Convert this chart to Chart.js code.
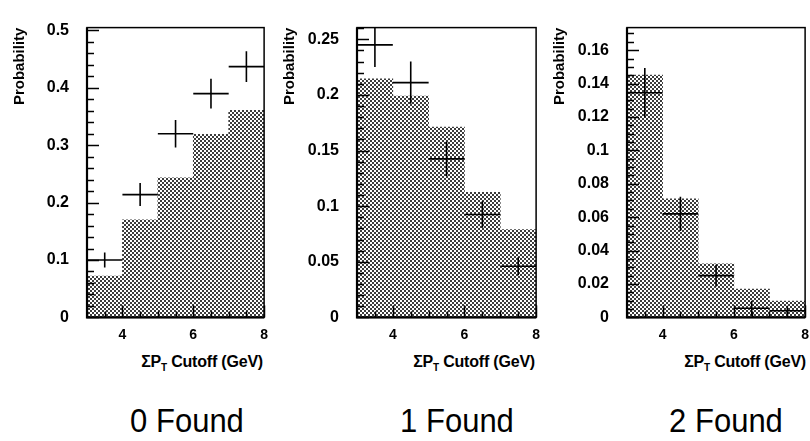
<!DOCTYPE html>
<html>
<head>
<meta charset="utf-8">
<script src="https://cdn.jsdelivr.net/npm/chart.js@4.4.1/dist/chart.umd.min.js"></script>
<style>
	html, body { margin: 0; padding: 0; background: #fff; width: 810px; height: 441px; overflow: hidden; position: relative; font-family: 'Liberation Sans', Arial, sans-serif; }
	canvas { position: absolute; top: 0; }
	.xt { position: absolute; top: 353px; font-weight: bold; font-size: 16px; line-height: 18px; white-space: nowrap; letter-spacing: -0.2px; }
	.xt sub { font-size: 10px; vertical-align: -4px; line-height: 0; }
	.found { position: absolute; top: 402px; width: 200px; text-align: center; font-size: 31px; line-height: 38px; transform: scaleY(1.08); }
</style>
</head>
<body>
<canvas id="panel0" width="277" height="345" style="left:0px"></canvas>
<canvas id="panel1" width="279" height="345" style="left:270px"></canvas>
<canvas id="panel2" width="278" height="345" style="left:540px"></canvas>

<div class="xt" style="right:547px">&Sigma;P<sub>T</sub> Cutoff (GeV)</div>
<div class="xt" style="right:275px">&Sigma;P<sub>T</sub> Cutoff (GeV)</div>
<div class="xt" style="right:4px">&Sigma;P<sub>T</sub> Cutoff (GeV)</div>

<div class="found" style="left:87px">0 Found</div>
<div class="found" style="left:357px">1 Found</div>
<div class="found" style="left:626px">2 Found</div>

<script>
// bins of the sum-pT cutoff (GeV)
const binCenters = [3.5, 4.5, 5.5, 6.5, 7.5];
const xTicks = [4, 6, 8];
const xTickLabels = ['4', '6', '8'];

// 0 found
const mc0 = [0.072, 0.170, 0.243, 0.319, 0.361];
const data0 = [0.100, 0.214, 0.320, 0.390, 0.437];
const err0 = [0.013, 0.020, 0.024, 0.026, 0.027];
const yTicks0 = [0, 0.1, 0.2, 0.3, 0.4, 0.5];
const yLabels0 = ['0', '0.1', '0.2', '0.3', '0.4', '0.5'];

// 1 found
const mc1 = [0.2145, 0.199, 0.171, 0.1125, 0.079];
const data1 = [0.245, 0.211, 0.1425, 0.0925, 0.046];
const err1 = [0.020, 0.019, 0.0155, 0.012, 0.008];
const yTicks1 = [0, 0.05, 0.1, 0.15, 0.2, 0.25];
const yLabels1 = ['0', '0.05', '0.1', '0.15', '0.2', '0.25'];

// 2 found
const mc2 = [0.145, 0.071, 0.032, 0.017, 0.0097];
const data2 = [0.1345, 0.062, 0.025, 0.0055, 0.004];
const err2 = [0.0148, 0.0102, 0.0065, 0.0045, 0.003];
const yTicks2 = [0, 0.02, 0.04, 0.06, 0.08, 0.1, 0.12, 0.14, 0.16];
const yLabels2 = ['0', '0.02', '0.04', '0.06', '0.08', '0.1', '0.12', '0.14', '0.16'];

const FONT = "'Liberation Sans', Arial, sans-serif";

function dotPattern() {
	const c = document.createElement('canvas');
	c.width = 4;
	c.height = 4;
	const g = c.getContext('2d');
	g.fillStyle = '#fff';
	g.fillRect(0, 0, 4, 4);
	g.fillStyle = '#3c3c3c';
	g.fillRect(0, 0, 2, 2);
	g.fillRect(2, 2, 2, 2);
	return g.createPattern(c, 'repeat');
}

// data crosses + frame + inward ticks
const framePlugin = {
	id: 'frame',
	afterDatasetsDraw(chart, args, opts) {
		const ctx = chart.ctx;
		const a = chart.chartArea;
		const x = chart.scales.x;
		const y = chart.scales.y;
		ctx.save();
		ctx.beginPath();
		ctx.rect(a.left, a.top, a.right - a.left, a.bottom - a.top);
		ctx.clip();
		ctx.strokeStyle = '#000';
		ctx.lineWidth = 1.6;
		opts.values.forEach((v, i) => {
			const cx = binCenters[i];
			const py = y.getPixelForValue(v);
			ctx.beginPath();
			ctx.moveTo(x.getPixelForValue(cx - 0.5), py);
			ctx.lineTo(x.getPixelForValue(cx + 0.5), py);
			ctx.moveTo(x.getPixelForValue(cx), y.getPixelForValue(v - opts.errors[i]));
			ctx.lineTo(x.getPixelForValue(cx), y.getPixelForValue(v + opts.errors[i]));
			ctx.stroke();
		});
		ctx.restore();
	},
	afterDraw(chart, args, opts) {
		const ctx = chart.ctx;
		const a = chart.chartArea;
		const x = chart.scales.x;
		const y = chart.scales.y;
		ctx.save();
		ctx.strokeStyle = '#000';
		ctx.lineWidth = 1.5;
		// y ticks pointing inward
		const ny = Math.round(y.max / opts.yMinor);
		for (let i = 0; i <= ny; i++) {
			const v = i * opts.yMinor;
			const py = Math.round(y.getPixelForValue(v)) + 0.5;
			if (py < a.top) continue;
			const major = opts.yMajor.some(t => Math.abs(t - v) < 1e-9);
			ctx.beginPath();
			ctx.moveTo(a.left, py);
			ctx.lineTo(a.left + (major ? 12 : 7), py);
			ctx.stroke();
		}
		// x ticks pointing inward
		for (let v = 3; v <= 8; v += 0.5) {
			const px = Math.round(x.getPixelForValue(v)) + 0.5;
			const major = xTicks.includes(v);
			ctx.beginPath();
			ctx.moveTo(px, a.bottom);
			ctx.lineTo(px, a.bottom - (major ? 12 : 6));
			ctx.stroke();
		}
		// frame
		ctx.lineWidth = 1.5;
		ctx.strokeRect(a.left, a.top, a.right - a.left, a.bottom - a.top);
		ctx.lineWidth = 2.2;
		ctx.beginPath();
		ctx.moveTo(a.left, a.top);
		ctx.lineTo(a.left, a.bottom);
		ctx.lineTo(a.right, a.bottom);
		ctx.stroke();
		ctx.restore();
	},
};

function makePanel(id, mc, values, errors, yTicks, yLabels, yMax, yMinor, padTop) {
	new Chart(document.getElementById(id), {
		type: 'bar',
		data: {
			datasets: [
				{
					data: binCenters.map((c, i) => ({ x: c, y: mc[i] })),
					backgroundColor: dotPattern(),
					borderWidth: 0,
					barPercentage: 1,
					categoryPercentage: 1,
				},
			],
		},
		options: {
			responsive: false,
			animation: false,
			events: [],
			layout: {
				padding: { left: 0, right: 10, top: padTop, bottom: 0 },
			},
			plugins: {
				legend: { display: false },
				tooltip: { enabled: false },
				frame: { values: values, errors: errors, yMajor: yTicks, yMinor: yMinor },
			},
			scales: {
				x: {
					type: 'linear',
					min: 3,
					max: 8,
					offset: false,
					grid: { display: false, drawTicks: false, offset: false },
					border: { display: false },
					afterBuildTicks: s => { s.ticks = xTicks.map(v => ({ value: v })); },
					afterFit: s => { s.height = 23; },
					ticks: {
						padding: 9,
						maxRotation: 0,
						autoSkip: false,
						color: '#000',
						font: { family: FONT, size: 14, weight: 'bold' },
						callback: (v, i) => xTickLabels[i],
					},
				},
				y: {
					type: 'linear',
					min: 0,
					max: yMax,
					grid: { display: false, drawTicks: false },
					border: { display: false },
					afterBuildTicks: s => { s.ticks = yTicks.map(v => ({ value: v })); },
					afterFit: s => { s.width = 87; },
					title: {
						display: true,
						text: 'Probability',
						align: 'end',
						color: '#000',
						padding: { top: 11, bottom: 0 },
						font: { family: FONT, size: 15, weight: 'bold' },
					},
					ticks: {
						padding: 18,
						autoSkip: false,
						color: '#000',
						font: { family: FONT, size: 16, weight: 'bold' },
						callback: (v, i) => yLabels[i],
					},
				},
			},
		},
		plugins: [framePlugin],
	});
}

makePanel('panel0', mc0, data0, err0, yTicks0, yLabels0, 0.505, 0.02, 14);
makePanel('panel1', mc1, data1, err1, yTicks1, yLabels1, 0.2605, 0.01, 10);
makePanel('panel2', mc2, data2, err2, yTicks2, yLabels2, 0.1735, 0.005, 10);
</script>
</body>
</html>
